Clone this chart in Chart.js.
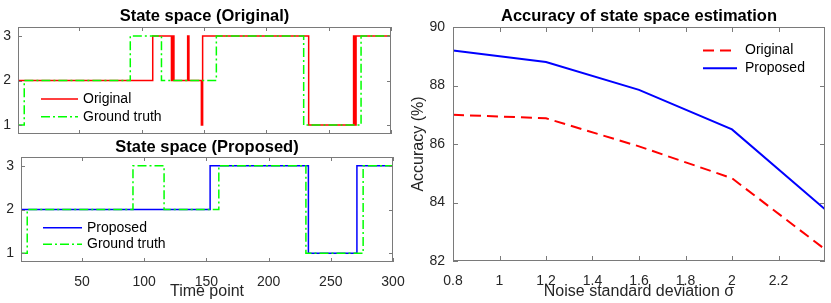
<!DOCTYPE html>
<html>
<head>
<meta charset="utf-8">
<script src="https://cdn.jsdelivr.net/npm/chart.js@4"></script>
<style>
  body { margin: 0; width: 831px; height: 303px; position: relative; overflow: hidden; background: #fff; }
  canvas { position: absolute; }
</style>
</head>
<body>
<canvas id="originalChart" width="400" height="140" style="left:0;top:0"></canvas>
<canvas id="proposedChart" width="410" height="163" style="left:0;top:140px"></canvas>
<canvas id="accuracyChart" width="431" height="303" style="left:400px;top:0"></canvas>
<script>
const timeTicks = [50, 100, 150, 200, 250, 300];
const stateTicks = [1, 2, 3];

// change points: each state holds from its time point until the next one
const truthTimes = [1, 6, 91, 116, 160, 230, 276, 300];
const truthStates = [1, 2, 3, 2, 3, 1, 3, 3];

const originalTimes = [1, 109, 124, 125, 126, 137, 138, 148, 149, 234, 270, 271, 272, 300];
const originalStates = [2, 3, 2, 3, 2, 3, 2, 1, 3, 1, 3, 1, 3, 3];

const proposedTimes = [1, 153, 232, 271, 300];
const proposedStates = [2, 3, 1, 3, 3];

const noiseLevels = [0.8, 1.2, 1.6, 2.0, 2.4];
const originalAccuracy = [87.0, 86.88, 85.92, 84.83, 82.4];
const proposedAccuracy = [89.2, 88.8, 87.85, 86.5, 83.77];
const noiseTicks = [0.8, 1, 1.2, 1.4, 1.6, 1.8, 2, 2.2];
const accuracyTicks = [82, 84, 86, 88, 90];

const fontFamily = "'Liberation Sans', Arial, sans-serif";
const axisColor = "#262626";
const frameColor = "#7a7a7a";
const tickFont = { family: fontFamily, size: 14 };
const labelFont = { family: fontFamily, size: 16 };

function toPoints(xs, ys) {
  return xs.map((x, i) => ({ x: x, y: ys[i] }));
}

function fixedTicks(values) {
  return function (scale) {
    scale.ticks = values.map((v) => ({ value: v }));
  };
}

// pin the axis box size and drop the label overflow padding chart.js adds
function fixHeight(h) {
  return function (scale) {
    scale.height = h;
    scale.paddingLeft = 0;
    scale.paddingRight = 0;
  };
}

function fixWidth(w) {
  return function (scale) {
    scale.width = w;
    scale.paddingTop = 0;
    scale.paddingBottom = 0;
  };
}

const frameAndLegend = {
  id: "frameAndLegend",
  afterDraw(chart, args, opts) {
    const ctx = chart.ctx;
    const area = chart.chartArea;
    const xScale = chart.scales.x;
    const yScale = chart.scales.y;
    const len = opts.tickLength;

    ctx.save();
    ctx.strokeStyle = frameColor;
    ctx.lineWidth = 1;
    ctx.beginPath();
    xScale.ticks.forEach(function (t) {
      const px = Math.round(xScale.getPixelForValue(t.value)) + 0.5;
      ctx.moveTo(px, area.bottom);
      ctx.lineTo(px, area.bottom - len);
      ctx.moveTo(px, area.top);
      ctx.lineTo(px, area.top + len);
    });
    yScale.ticks.forEach(function (t) {
      const py = Math.round(yScale.getPixelForValue(t.value)) + 0.5;
      ctx.moveTo(area.left, py);
      ctx.lineTo(area.left + len, py);
      ctx.moveTo(area.right, py);
      ctx.lineTo(area.right - len, py);
    });
    ctx.stroke();
    ctx.strokeRect(area.left + 0.5, area.top + 0.5, area.width - 1, area.height - 1);

    const lg = opts.legend;
    ctx.font = "14px " + fontFamily;
    ctx.textBaseline = "middle";
    chart.data.datasets.forEach(function (ds, i) {
      const ly = lg.y + i * lg.rowHeight;
      ctx.beginPath();
      ctx.setLineDash(ds.borderDash || []);
      ctx.strokeStyle = ds.borderColor;
      ctx.lineWidth = ds.borderWidth;
      ctx.moveTo(lg.x, ly);
      ctx.lineTo(lg.x + lg.lineLength, ly);
      ctx.stroke();
      ctx.setLineDash([]);
      ctx.fillStyle = "#000";
      ctx.fillText(ds.label, lg.x + lg.lineLength + lg.gap, ly);
    });
    ctx.restore();
  },
};

function stepLine(label, times, states, color, dash, order) {
  return {
    label: label,
    data: toPoints(times, states),
    borderColor: color,
    borderWidth: 1.5,
    borderDash: dash,
    stepped: true,
    pointRadius: 0,
    order: order,
  };
}

function stateOptions(title, titlePadding, titleLineHeight, showTime, yWidth, xHeight, padRight, legend) {
  return {
    responsive: false,
    animation: false,
    devicePixelRatio: 1,
    events: [],
    layout: { padding: { left: 0, right: padRight, top: 0, bottom: 0 } },
    plugins: {
      legend: { display: false },
      tooltip: { enabled: false },
      title: {
        display: true,
        text: title,
        fullSize: false,
        color: "#000",
        font: { family: fontFamily, size: 16.5, weight: "bold", lineHeight: titleLineHeight },
        padding: titlePadding,
      },
      frameAndLegend: { tickLength: 4, legend: legend },
    },
    scales: {
      x: {
        type: "linear",
        min: 1,
        max: 300,
        afterBuildTicks: fixedTicks(timeTicks),
        afterFit: fixHeight(xHeight),
        grid: { display: false, drawTicks: false },
        border: { display: false },
        ticks: {
          display: showTime,
          padding: 12,
          autoSkip: false,
          maxRotation: 0,
          color: axisColor,
          font: tickFont,
          callback: (v) => String(v),
        },
        title: {
          display: showTime,
          text: "Time point",
          color: axisColor,
          font: labelFont,
          padding: { top: 0, bottom: 2 },
        },
      },
      y: {
        type: "linear",
        min: 0.8,
        max: 3.2,
        afterBuildTicks: fixedTicks(stateTicks),
        afterFit: fixWidth(yWidth),
        grid: { display: false, drawTicks: false },
        border: { display: false },
        ticks: { padding: 7, color: axisColor, font: tickFont, callback: (v) => String(v) },
      },
    },
  };
}

new Chart(document.getElementById("originalChart"), {
  type: "line",
  data: {
    datasets: [
      stepLine("Original", originalTimes, originalStates, "#ff0000", [], 1),
      stepLine("Ground truth", truthTimes, truthStates, "#00ff00", [9, 3, 2, 3], 0),
    ],
  },
  options: stateOptions(
    "State space (Original)",
    { top: 6, bottom: 1 },
    "20px",
    false,
    18,
    6,
    9,
    { x: 41, y: 99, rowHeight: 17.7, lineLength: 37, gap: 5 }
  ),
  plugins: [frameAndLegend],
});

new Chart(document.getElementById("proposedChart"), {
  type: "line",
  data: {
    datasets: [
      stepLine("Proposed", proposedTimes, proposedStates, "#0000ff", [], 1),
      stepLine("Ground truth", truthTimes, truthStates, "#00ff00", [9, 3, 2, 3], 0),
    ],
  },
  options: stateOptions(
    "State space (Proposed)",
    { top: 1, bottom: 3 },
    "13px",
    true,
    21,
    41,
    17,
    { x: 43, y: 87.7, rowHeight: 16.6, lineLength: 39, gap: 5 }
  ),
  plugins: [frameAndLegend],
});

new Chart(document.getElementById("accuracyChart"), {
  type: "line",
  data: {
    datasets: [
      {
        label: "Original",
        data: toPoints(noiseLevels, originalAccuracy),
        borderColor: "#ff0000",
        borderWidth: 2,
        borderDash: [11, 6],
        pointRadius: 0,
        tension: 0,
      },
      {
        label: "Proposed",
        data: toPoints(noiseLevels, proposedAccuracy),
        borderColor: "#0000ff",
        borderWidth: 2,
        pointRadius: 0,
        tension: 0,
      },
    ],
  },
  options: {
    responsive: false,
    animation: false,
    devicePixelRatio: 1,
    events: [],
    layout: { padding: { left: 0, right: 6, top: 0, bottom: 0 } },
    plugins: {
      legend: { display: false },
      tooltip: { enabled: false },
      title: {
        display: true,
        text: "Accuracy of state space estimation",
        fullSize: false,
        color: "#000",
        font: { family: fontFamily, size: 16.5, weight: "bold", lineHeight: "20px" },
        padding: { top: 6, bottom: 1 },
      },
      frameAndLegend: {
        tickLength: 5,
        legend: { x: 303, y: 50.5, rowHeight: 17.8, lineLength: 34, gap: 8 },
      },
    },
    scales: {
      x: {
        type: "linear",
        min: 0.8,
        max: 2.4,
        afterBuildTicks: fixedTicks(noiseTicks),
        afterFit: fixHeight(42),
        grid: { display: false, drawTicks: false },
        border: { display: false },
        ticks: {
          padding: 12,
          autoSkip: false,
          maxRotation: 0,
          color: axisColor,
          font: tickFont,
          callback: (v) => String(v),
        },
        title: {
          display: true,
          text: "Noise standard deviation σ",
          color: axisColor,
          font: labelFont,
          padding: { top: 0, bottom: 2 },
        },
      },
      y: {
        type: "linear",
        min: 82,
        max: 90,
        afterBuildTicks: fixedTicks(accuracyTicks),
        afterFit: fixWidth(53),
        grid: { display: false, drawTicks: false },
        border: { display: false },
        ticks: { padding: 8, color: axisColor, font: tickFont, callback: (v) => String(v) },
        title: {
          display: true,
          text: "Accuracy (%)",
          color: axisColor,
          font: labelFont,
          padding: { top: 9, bottom: 0 },
        },
      },
    },
  },
  plugins: [frameAndLegend],
});
</script>
</body>
</html>
